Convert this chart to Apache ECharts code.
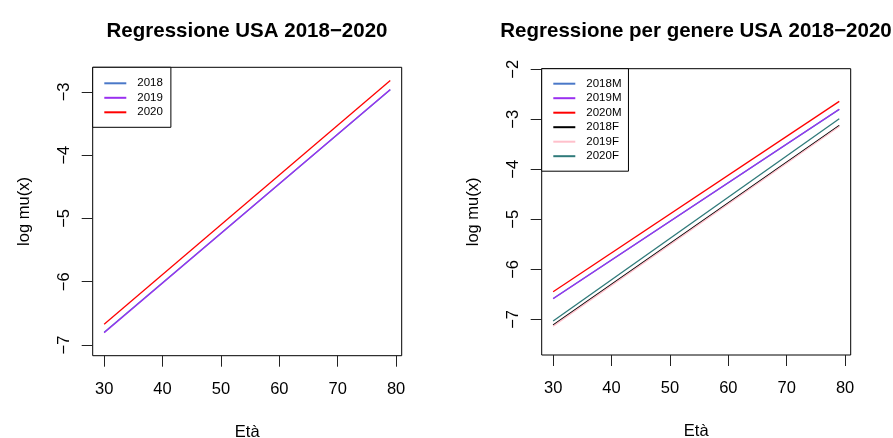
<!DOCTYPE html>
<html>
<head>
<meta charset="utf-8">
<script src="https://cdn.jsdelivr.net/npm/echarts@6/dist/echarts.min.js"></script>
<style>html,body{margin:0;padding:0;background:#fff}#c{width:893px;height:438px}</style>
</head>
<body>
<div id="c"></div>
<script>
// ---- data ----
var ages = [30, 79];
var xTicks = [30, 40, 50, 60, 70, 80];
var yTicksLeft = [-7, -6, -5, -4, -3];
var yTicksRight = [-7, -6, -5, -4, -3, -2];

var leftNames = ['2018', '2019', '2020'];
var us2018 = [-6.800, -2.966];
var us2019 = [-6.806, -2.961];
var us2020 = [-6.673, -2.820];

var rightNames = ['2018M', '2019M', '2020M', '2018F', '2019F', '2020F'];
var m2018 = [-6.584, -2.802];
var m2019 = [-6.589, -2.798];
var m2020 = [-6.448, -2.642];
var f2018 = [-7.115, -3.124];
var f2019 = [-7.135, -3.142];
var f2020 = [-7.034, -2.988];

var leftColors = ['#4a78c8', '#9a30f0', '#ff0000'];
var rightColors = ['#4a78c8', '#9a30f0', '#ff0000', '#000000', '#ffc0cb', '#2f7a7a'];

function pts(vals) { return ages.map(function (a, i) { return [a, vals[i]]; }); }
function minus(v) { return String(v).replace('-', '\u2212'); }

var FONT = 'Liberation Sans, Arial, Helvetica, sans-serif';

function xAxis(gi) {
  return {
    type: 'value', gridIndex: gi, min: 28.04, max: 80.96,
    name: 'Età', nameLocation: 'middle', nameGap: 68,
    nameTextStyle: { color: '#000', fontSize: 16.5, fontFamily: FONT },
    axisLine: { show: false },
    axisTick: { show: true, inside: false, length: 11, customValues: xTicks, lineStyle: { color: '#222', width: 1 } },
    axisLabel: { customValues: xTicks, color: '#000', fontSize: 16.5, fontFamily: FONT, margin: 25 },
    splitLine: { show: false }
  };
}
function yAxis(gi, mn, mx, ticks) {
  return {
    type: 'value', gridIndex: gi, min: mn, max: mx,
    name: 'log mu(x)', nameLocation: 'middle', nameGap: 60,
    nameTextStyle: { color: '#000', fontSize: 16.5, fontFamily: FONT },
    axisLine: { show: false },
    axisTick: { show: true, inside: false, length: 11, customValues: ticks, lineStyle: { color: '#222', width: 1 } },
    axisLabel: { customValues: ticks, rotate: 90, color: '#000', fontSize: 16.5, fontFamily: FONT, margin: 20, formatter: minus },
    splitLine: { show: false }
  };
}
function line(name, gi, vals, color) {
  return {
    type: 'line', name: name, xAxisIndex: gi, yAxisIndex: gi, data: pts(vals),
    symbol: 'none', silent: true, animation: false,
    lineStyle: { color: color, width: 1.3 }, itemStyle: { color: color }
  };
}

var series = [
  line('2018', 0, us2018, leftColors[0]),
  line('2019', 0, us2019, leftColors[1]),
  line('2020', 0, us2020, leftColors[2]),
  line('2018M', 1, m2018, rightColors[0]),
  line('2019M', 1, m2019, rightColors[1]),
  line('2020M', 1, m2020, rightColors[2]),
  line('2018F', 1, f2018, rightColors[3]),
  line('2019F', 1, f2019, rightColors[4]),
  line('2020F', 1, f2020, rightColors[5])
];

var legendCommon = {
  orient: 'vertical', itemWidth: 22, itemHeight: 10, itemGap: 2.5,
  borderColor: '#000', borderWidth: 1, backgroundColor: '#fff',
  itemStyle: { opacity: 0 },
  textStyle: { color: '#000', fontSize: 11.5, fontFamily: FONT, padding: [0, 0, 0, 6] },
  selectedMode: false
};

var chart = echarts.init(document.getElementById('c'), null, { renderer: 'canvas' });
chart.setOption({
  animation: false,
  backgroundColor: '#fff',
  title: [
    { text: 'Regressione USA 2018\u22122020', left: 247, top: 21, textAlign: 'center', padding: 0,
      textStyle: { fontSize: 20.5, fontWeight: 'bold', color: '#000', fontFamily: FONT } },
    { text: 'Regressione per genere USA 2018\u22122020', left: 696, top: 21, textAlign: 'center', padding: 0,
      textStyle: { fontSize: 20.5, fontWeight: 'bold', color: '#000', fontFamily: FONT } }
  ],
  grid: [
    { left: 92.7, top: 67.3, width: 309, height: 288.4, show: true, borderColor: '#000', borderWidth: 1, backgroundColor: 'transparent', outerBoundsMode: 'none', containLabel: false },
    { left: 541.7, top: 68.7, width: 309, height: 286.3, show: true, borderColor: '#000', borderWidth: 1, backgroundColor: 'transparent', outerBoundsMode: 'none', containLabel: false }
  ],
  xAxis: [xAxis(0), xAxis(1)],
  yAxis: [yAxis(0, -7.169, -2.611, yTicksLeft), yAxis(1, -7.712, -1.988, yTicksRight)],
  legend: [
    Object.assign({}, legendCommon, { data: leftNames, left: 92.7, top: 67.3, padding: [10, 8, 9, 10.6] }),
    Object.assign({}, legendCommon, { data: rightNames, left: 541.7, top: 68.7, padding: [9, 7, 9, 10.6] })
  ],
  series: series
});
</script>
</body>
</html>
